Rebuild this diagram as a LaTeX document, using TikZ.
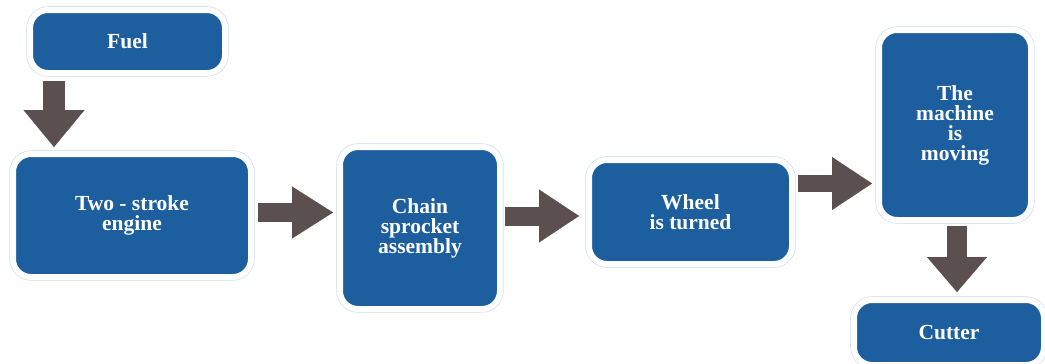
\documentclass[tikz,border=0pt]{standalone}
\usepackage{fontspec}
\setmainfont{Liberation Serif}
\usetikzlibrary{arrows.meta}
\definecolor{boxblue}{RGB}{29,95,158}
\definecolor{rimblue}{RGB}{198,218,240}
\definecolor{arrowgray}{RGB}{91,79,79}
\begin{document}
\begin{tikzpicture}[x=1pt,y=-1pt,
  box/.style={rectangle,rounded corners=18pt,fill=boxblue,draw=white,line width=6pt,
    preaction={draw=rimblue,line width=7.2pt},text=white,align=center,
    font=\bfseries\fontsize{21.5}{20}\selectfont,inner sep=0pt},
  flow/.style={draw=arrowgray,line width=#1},
  flow/.default=20pt]
\useasboundingbox (0,0) rectangle (1045,364);

\node[box,minimum width=195pt,minimum height=63pt] (fuel) at (127.5,41.5) {Fuel};
\node[box,minimum width=238pt,minimum height=123pt] (engine) at (132,215.5) {Two - stroke\\engine};
\node[box,minimum width=160pt,minimum height=162pt] (chain) at (420,228) {Chain\\sprocket\\assembly};
\node[box,minimum width=203pt,minimum height=104pt] (wheel) at (690.5,212) {Wheel\\is turned};
\node[box,minimum width=152pt,minimum height=190pt] (machine) at (955,125) {The\\machine\\is\\moving};
\node[box,minimum width=190pt,minimum height=65pt] (cutter) at (949,332.5) {Cutter};

% block arrows
\draw[flow=22pt,-{Triangle[width=61pt,length=37pt,line width=0.1pt]},shorten <=4.5pt,shorten >=4pt]
  ([xshift=-73.5pt]fuel.south) -- ([xshift=-73.5pt]fuel.south |- engine.north);
\draw[flow=19pt,-{Triangle[width=52pt,length=41pt,line width=0.1pt]},shorten <=4pt,shorten >=4pt]
  ([yshift=3pt]engine.east) -- ([yshift=3pt]engine.east -| chain.west);
\draw[flow=19pt,-{Triangle[width=53pt,length=40pt,line width=0.1pt]},shorten <=2pt,shorten >=7pt]
  ([yshift=-4pt]wheel.west -| chain.east) -- ([yshift=-4pt]wheel.west);
\draw[flow=17pt,-{Triangle[width=53pt,length=40pt,line width=0.1pt]},shorten <=3pt,shorten >=4pt]
  ([yshift=28.5pt]wheel.east) -- ([yshift=28.5pt]wheel.east -| machine.west);
\draw[flow=20pt,-{Triangle[width=60pt,length=35pt,line width=0.1pt]},shorten <=3pt,shorten >=5pt]
  ([xshift=2pt]machine.south) -- ([xshift=2pt]machine.south |- cutter.north);
\end{tikzpicture}
\end{document}
